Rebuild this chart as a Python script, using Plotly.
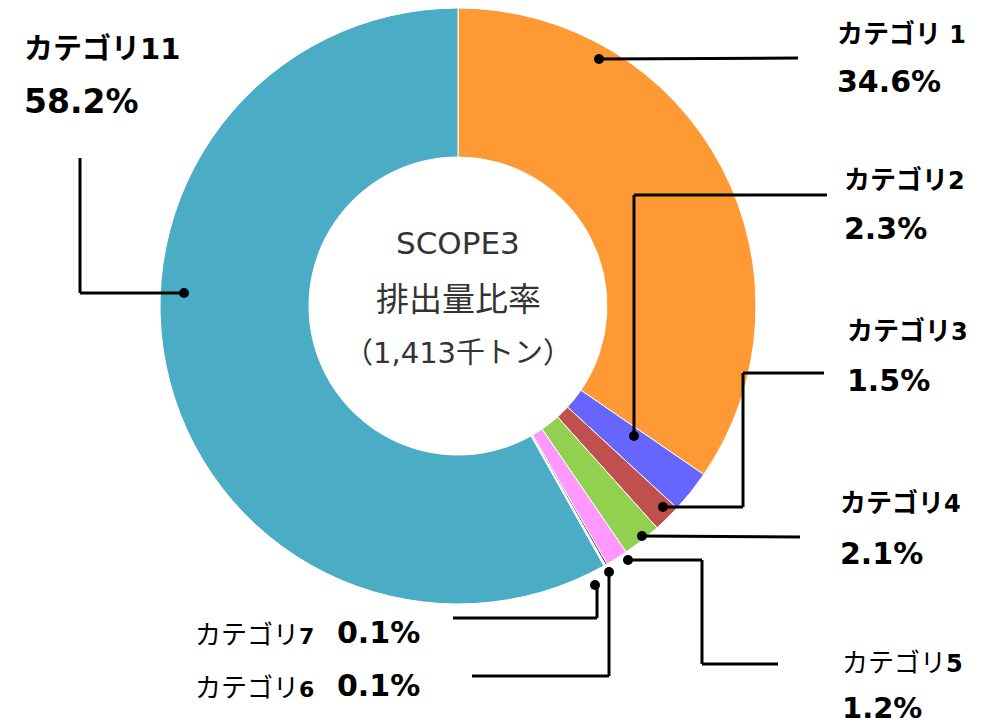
import plotly.graph_objects as go

# ---- data ----
categories = ["カテゴリ1", "カテゴリ2", "カテゴリ3", "カテゴリ4", "カテゴリ5", "カテゴリ6", "カテゴリ7", "カテゴリ11"]
shares = [34.6, 2.3, 1.5, 2.1, 1.2, 0.1, 0.1, 58.2]
colors = ["#FF9933", "#6666FF", "#C0504D", "#92D050", "#FF99FF", "#333333", "#E8F4F8", "#4BACC6"]
center_lines = ["SCOPE3", "排出量比率", "（1,413千トン）"]

W, H = 985, 727
OFF = 8  # page body margin
FW, FH = W - OFF, H - OFF
CX, CY, R = 458, 306, 298


def px(x):
    return (x - OFF) / FW


def py(y):
    return 1 - (y - OFF) / FH


fig = go.Figure()
fig.add_trace(go.Pie(
    labels=categories, values=shares, sort=False, direction="clockwise", rotation=0,
    hole=0.5, marker=dict(colors=colors, line=dict(color="white", width=1)),
    textinfo="none", hoverinfo="label+percent", showlegend=False,
    domain=dict(x=[px(CX - R), px(CX + R)], y=[max(0, py(CY + R)), min(1, py(CY - R))]),
))

KANA = "Noto Sans CJK JP, Meiryo, sans-serif"
NUM = "DejaVu Sans"
annotations = []


def label(x, y, text, size=26, color="#000", family=KANA, anchor="left"):
    annotations.append(dict(x=px(x), y=py(y), xref="paper", yref="paper", text=text,
                            showarrow=False, xanchor=anchor, yanchor="middle",
                            font=dict(family=family, size=size, color=color)))


def cat_text(name, bold_kana=True, num_size=24):
    kana = name[:4]
    num = name[4:]
    k = f"<b>{kana}</b>" if bold_kana else kana
    return k + f"<span style='font-family:{NUM};font-size:{num_size}px'><b>{num}</b></span>"


def pct(i):
    return f"<b>{shares[i]:.1f}%</b>"


label(835, 31, "<b>カテゴリ</b><span style='font-family:DejaVu Sans;font-size:24px'><b> 1</b></span>")
label(835, 81, pct(0), size=30, family=NUM)
label(842, 177, cat_text(categories[1]))
label(842, 228, pct(1), size=30, family=NUM)
label(845, 328, cat_text(categories[2]))
label(845, 380, pct(2), size=30, family=NUM)
label(838, 500, cat_text(categories[3]))
label(838, 553, pct(3), size=30, family=NUM)
label(840, 660, cat_text(categories[4], bold_kana=False))
label(840, 708, pct(4), size=29, family=NUM)
label(193, 632, cat_text(categories[6], bold_kana=False, num_size=22))
label(335, 632, pct(6), size=30, family=NUM)
label(193, 685, cat_text(categories[5], bold_kana=False, num_size=22))
label(335, 685, pct(5), size=30, family=NUM)
label(22, 46, cat_text(categories[7], num_size=29), size=29)
label(22, 101, pct(7), size=33, family=NUM)

label(CX, 243, center_lines[0], size=31, color="#333", family=NUM, anchor="center")
label(CX, 297, center_lines[1], size=33, color="#333", anchor="center")
label(CX, 350, "（<span style='font-family:DejaVu Sans'>1,413</span>千トン）",
      size=29, color="#333", anchor="center")

# leader lines (polylines in pixel space)
leaders = [
    [(599, 59), (798, 58)],
    [(634, 436), (634, 195), (827, 195)],
    [(663, 507), (743, 507), (743, 373), (824, 373)],
    [(642, 536), (800, 537)],
    [(628, 560), (702, 560), (702, 664), (778, 664)],
    [(609, 572), (609, 676), (472, 676)],
    [(595, 585), (597, 585), (597, 618), (453, 618)],
    [(184, 293), (80, 293), (80, 158)],
]
shapes = []
for pts in leaders:
    for (x0, y0), (x1, y1) in zip(pts[:-1], pts[1:]):
        shapes.append(dict(type="line", xref="paper", yref="paper",
                           x0=px(x0), y0=py(y0), x1=px(x1), y1=py(y1),
                           line=dict(color="black", width=3)))
    dx, dy = pts[0]
    r = 5
    shapes.append(dict(type="circle", xref="paper", yref="paper",
                       x0=px(dx - r), x1=px(dx + r), y0=py(dy + r), y1=py(dy - r),
                       fillcolor="black", line=dict(color="black", width=0)))

fig.update_layout(width=FW, height=FH, margin=dict(l=0, r=0, t=0, b=0),
                  paper_bgcolor="white", plot_bgcolor="white",
                  annotations=annotations, shapes=shapes)
fig.write_html("out.html")
